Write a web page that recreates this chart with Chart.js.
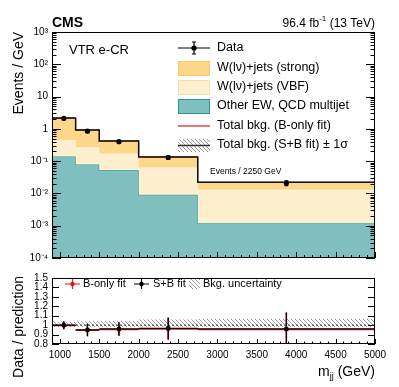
<!DOCTYPE html>
<html>
<head>
<meta charset="utf-8">
<script src="https://cdn.jsdelivr.net/npm/chart.js@4"></script>
<style>
  body { margin: 0; background: #fff; }
  #wrap { position: relative; width: 399px; height: 387px; }
  canvas { position: absolute; left: 0; }
</style>
</head>
<body>
<div id="wrap">
  <canvas id="top" width="399" height="268" style="top:0"></canvas>
  <canvas id="ratio" width="399" height="119" style="top:268px"></canvas>
</div>
<script>
// bin edges in m_jj (GeV) and bin centres
const edges = [900, 1200, 1500, 2000, 2750, 5000];
const centers = [1050, 1350, 1750, 2375, 3875];

// events / GeV per process
const otherEW = [0.14, 0.079, 0.052, 0.0091, 0.0012];
const wVBF = [0.31, 0.19, 0.12, 0.054, 0.0118];
const wStrong = [1.7, 0.65, 0.25, 0.072, 0.009];
const dataY = [2.1, 0.85, 0.40, 0.13, 0.021];
const dataErr = [0.08, 0.055, 0.028, 0.015, 0.0037];

// ratio panel
const ratioSB = [1.00, 0.95, 0.96, 0.965, 0.96];
const ratioB = [0.995, 0.945, 0.955, 0.96, 0.955];
const ratioErr = [0.04, 0.065, 0.07, 0.115, 0.175];
const bandLow = [0.98, 0.98, 0.98, 0.98, 0.98];
const bandHigh = [1.035, 1.04, 1.045, 1.06, 1.065];

// tick labels
const yTicks = [1e-4, 1e-3, 1e-2, 1e-1, 1, 10, 100, 1000];
const yTickLabels = ["10\u207B\u2074", "10\u207B\u00B3", "10\u207B\u00B2", "10\u207B\u00B9", "1", "10", "10\u00B2", "10\u00B3"];
const rTicks = [0.8, 0.9, 1.0, 1.1, 1.2, 1.3, 1.4, 1.5];
const rTickLabels = ["0.8", "0.9", "1", "1.1", "1.2", "1.3", "1.4", "1.5"];
const xTicks = [1000, 1500, 2000, 2500, 3000, 3500, 4000, 4500, 5000];
const xTickLabels = ["1000", "1500", "2000", "2500", "3000", "3500", "4000", "4500", "5000"];

const FONT = "'Liberation Sans', Arial, sans-serif";
const C_STRONG = "#fdd88b", C_VBF = "#fef0cf", C_OTHER = "#80bfbf", C_OTHER_LINE = "#2b9494";

function steps(vals) {
    return edges.map((e, i) => ({x: e, y: vals[Math.min(i, vals.length - 1)]}));
}

function makeHatch() {
    let c = document.createElement("canvas");
    c.width = 4; c.height = 4;
    let g = c.getContext("2d");
    g.strokeStyle = "#808080";
    g.lineWidth = 0.8;
    g.beginPath();
    g.moveTo(0, 0); g.lineTo(4, 4);
    g.moveTo(-1, 3); g.lineTo(1, 5);
    g.moveTo(3, -1); g.lineTo(5, 1);
    g.stroke();
    return g.createPattern(c, "repeat");
}

let cumVBF = otherEW.map((v, i) => v + wVBF[i]);
let total = cumVBF.map((v, i) => v + wStrong[i]);
let hatch = makeHatch();

// inward ROOT-like ticks and frame
function frameTicks(opts) {
    return {
        id: "frameTicks",
        afterDraw(chart) {
            let ctx = chart.ctx, a = chart.chartArea;
            let x = chart.scales.x, y = chart.scales.y;
            ctx.save();
            ctx.strokeStyle = "#000";
            ctx.lineWidth = 1;
            ctx.beginPath();
            for (let v = 900; v <= 5000; v += 100) {
                let px = Math.round(x.getPixelForValue(v)) + 0.5;
                let len = v % 500 === 0 ? opts.xMajor : opts.xMinor;
                ctx.moveTo(px, a.bottom); ctx.lineTo(px, a.bottom - len);
            }
            opts.yTickList(y).forEach(t => {
                let py = Math.round(y.getPixelForValue(t.v)) + 0.5;
                ctx.moveTo(a.left, py); ctx.lineTo(a.left + t.len, py);
                ctx.moveTo(a.right, py); ctx.lineTo(a.right - t.len, py);
            });
            ctx.stroke();
            ctx.strokeRect(a.left + 0.5, a.top + 0.5, a.width - 1, a.height - 1);
            ctx.restore();
            if (opts.extra) opts.extra(chart);
        }
    };
}

// error bars drawn just before the markers of a dataset
const errorBars = {
    id: "errorBars",
    beforeDatasetDraw(chart, args) {
        let ds = chart.data.datasets[args.index];
        if (!ds.errs) return;
        let ctx = chart.ctx, x = chart.scales.x, y = chart.scales.y;
        ctx.save();
        ctx.strokeStyle = ds.borderColor;
        ctx.lineWidth = ds.errWidth || 1.2;
        ctx.beginPath();
        ds.data.forEach((p, j) => {
            let px = x.getPixelForValue(p.x);
            let y1 = y.getPixelForValue(p.y + ds.errs[j]);
            let y2 = y.getPixelForValue(Math.max(p.y - ds.errs[j], y.min));
            ctx.moveTo(px, y1); ctx.lineTo(px, y2);
            if (ds.caps) {
                ctx.moveTo(px - 2, y1); ctx.lineTo(px + 2, y1);
                ctx.moveTo(px - 2, y2); ctx.lineTo(px + 2, y2);
            }
            if (ds.hbars) {
                let py = y.getPixelForValue(p.y);
                ctx.moveTo(x.getPixelForValue(edges[j]), py);
                ctx.lineTo(x.getPixelForValue(edges[j + 1]), py);
            }
        });
        ctx.stroke();
        ctx.restore();
    }
};

function text(ctx, s, x, y, size, opt) {
    opt = opt || {};
    ctx.font = (opt.bold ? "bold " : "") + size + "px " + FONT;
    ctx.fillStyle = opt.color || "#000";
    ctx.textAlign = opt.align || "left";
    ctx.textBaseline = opt.base || "alphabetic";
    ctx.fillText(s, x, y);
}

function topExtra(chart) {
    let ctx = chart.ctx;
    ctx.save();
    text(ctx, "CMS", 52, 27, 14, {bold: true});
    // lumi label with superscript
    ctx.font = "12px " + FONT;
    let tail = " (13 TeV)", sup = "-1", head = "96.4 fb";
    let wTail = ctx.measureText(tail).width, wHead = ctx.measureText(head).width;
    ctx.font = "8px " + FONT;
    let wSup = ctx.measureText(sup).width;
    let xr = 375;
    text(ctx, tail, xr - wTail, 27, 12);
    text(ctx, sup, xr - wTail - wSup, 21, 8);
    text(ctx, head, xr - wTail - wSup - wHead, 27, 12);

    text(ctx, "VTR e-CR", 69, 54, 13);
    text(ctx, "Events / 2250 GeV", 210, 174, 8.5);

    // y title
    ctx.save();
    ctx.translate(23, 32);
    ctx.rotate(-Math.PI / 2);
    text(ctx, "Events / GeV", 0, 0, 14, {align: "right"});
    ctx.restore();

    // legend
    let lx = 178, lw = 32, tx = 217;
    ctx.strokeStyle = "#000"; ctx.lineWidth = 1.2;
    ctx.beginPath();
    ctx.moveTo(lx, 48); ctx.lineTo(lx + lw, 48);
    ctx.moveTo(lx + 16, 42); ctx.lineTo(lx + 16, 54);
    ctx.moveTo(lx + 14, 42); ctx.lineTo(lx + 18, 42);
    ctx.moveTo(lx + 14, 54); ctx.lineTo(lx + 18, 54);
    ctx.stroke();
    ctx.fillStyle = "#000";
    ctx.beginPath(); ctx.arc(lx + 16, 48, 2.6, 0, 2 * Math.PI); ctx.fill();
    text(ctx, "Data", tx, 48, 12.5, {base: "middle"});

    let boxes = [[C_STRONG, "#f6c76c", 68, "W(l\u03BD)+jets (strong)"],
                 [C_VBF, "#f3e0b8", 87, "W(l\u03BD)+jets (VBF)"],
                 [C_OTHER, C_OTHER_LINE, 106, "Other EW, QCD multijet"]];
    boxes.forEach(b => {
        ctx.fillStyle = b[0];
        ctx.fillRect(lx, b[2] - 7, lw, 15);
        ctx.strokeStyle = b[1]; ctx.lineWidth = 1;
        ctx.strokeRect(lx + 0.5, b[2] - 6.5, lw - 1, 14);
        text(ctx, b[3], tx, b[2], 12.5, {base: "middle"});
    });
    ctx.strokeStyle = "#e8141e"; ctx.lineWidth = 1.2;
    ctx.beginPath(); ctx.moveTo(lx, 126); ctx.lineTo(lx + lw, 126); ctx.stroke();
    text(ctx, "Total bkg. (B-only fit)", tx, 126, 12.5, {base: "middle"});
    ctx.fillStyle = hatch;
    ctx.fillRect(lx, 139, lw, 13);
    ctx.strokeStyle = "#333"; ctx.lineWidth = 1.5;
    ctx.beginPath(); ctx.moveTo(lx, 145.5); ctx.lineTo(lx + lw, 145.5); ctx.stroke();
    text(ctx, "Total bkg. (S+B fit) \u00B1 1\u03C3", tx, 145, 12.5, {base: "middle"});
    ctx.restore();
}

function ratioExtra(chart) {
    let ctx = chart.ctx;
    ctx.save();
    // y title
    ctx.save();
    ctx.translate(23, 59);
    ctx.rotate(-Math.PI / 2);
    text(ctx, "Data / prediction", 0, 0, 14, {align: "center"});
    ctx.restore();
    // x title with subscript
    ctx.font = "14px " + FONT;
    let t2 = " (GeV)";
    let w2 = ctx.measureText(t2).width;
    ctx.font = "9px " + FONT;
    let wSub = ctx.measureText("jj").width;
    ctx.font = "14px " + FONT;
    let wm = ctx.measureText("m").width;
    text(ctx, t2, 375 - w2, 108, 14);
    text(ctx, "jj", 375 - w2 - wSub, 111, 9);
    text(ctx, "m", 375 - w2 - wSub - wm, 108, 14);

    // legend
    let ly = 16;
    [["#e8141e", 65, "B-only fit", 83], ["#000", 134, "S+B fit", 153]].forEach(e => {
        ctx.strokeStyle = e[0]; ctx.lineWidth = 1.2;
        ctx.beginPath();
        ctx.moveTo(e[1], ly); ctx.lineTo(e[1] + 15, ly);
        ctx.moveTo(e[1] + 7.5, ly - 5); ctx.lineTo(e[1] + 7.5, ly + 5);
        ctx.stroke();
        ctx.fillStyle = e[0];
        ctx.beginPath(); ctx.arc(e[1] + 7.5, ly, 2.2, 0, 2 * Math.PI); ctx.fill();
        text(ctx, e[2], e[3], ly, 11, {base: "middle"});
    });
    ctx.fillStyle = hatch;
    ctx.fillRect(189, ly - 5, 11, 10);
    text(ctx, "Bkg. uncertainty", 203, ly, 11, {base: "middle"});
    ctx.restore();
}

document.addEventListener("DOMContentLoaded", function() {
    let line = {pointRadius: 0, borderWidth: 0, stepped: true};

    new Chart(document.querySelector("#top").getContext("2d"), {
        type: "line",
        data: {
            datasets: [
                Object.assign({}, line, {data: steps(otherEW), fill: "start", backgroundColor: C_OTHER,
                    borderColor: C_OTHER_LINE, borderWidth: 1.2, order: 10}),
                Object.assign({}, line, {data: steps(cumVBF), fill: "-1", backgroundColor: C_VBF,
                    borderColor: C_VBF, order: 9}),
                Object.assign({}, line, {data: steps(total), fill: "-1", backgroundColor: C_STRONG,
                    borderColor: C_STRONG, order: 8}),
                Object.assign({}, line, {data: steps(total.map((v, i) => v * bandLow[i])), fill: false, order: 7}),
                Object.assign({}, line, {data: steps(total.map((v, i) => v * bandHigh[i])), fill: "-1",
                    backgroundColor: hatch, order: 6}),
                Object.assign({}, line, {data: steps(total), borderColor: "#e8141e", borderWidth: 1, fill: false, order: 5}),
                Object.assign({}, line, {data: steps(total), borderColor: "#111", borderWidth: 1.5, fill: false, order: 4}),
                {data: centers.map((c, i) => ({x: c, y: dataY[i]})), showLine: false, pointRadius: 2.6,
                    pointBackgroundColor: "#000", borderColor: "#000", pointBorderWidth: 0,
                    errs: dataErr, caps: true, order: 1}
            ]
        },
        options: {
            responsive: false,
            animation: false,
            devicePixelRatio: 1,
            layout: {padding: {top: 32, right: 24, bottom: 5, left: 0}},
            plugins: {legend: {display: false}, tooltip: {enabled: false}},
            scales: {
                x: {type: "linear", min: 900, max: 5000, display: false},
                y: {
                    type: "logarithmic", min: 1e-4, max: 1e3,
                    afterBuildTicks: s => { s.ticks = yTicks.map(v => ({value: v})); },
                    afterFit: s => { s.width = 52; },
                    grid: {display: false, drawTicks: false},
                    border: {display: false},
                    ticks: {
                        autoSkip: false, padding: 4, color: "#000",
                        font: {family: FONT, size: 10},
                        callback: (v, i) => yTickLabels[i]
                    }
                }
            }
        },
        plugins: [errorBars, frameTicks({
            xMajor: 6, xMinor: 3,
            yTickList: () => {
                let list = [];
                for (let e = -4; e < 3; e++) {
                    list.push({v: Math.pow(10, e), len: 9});
                    for (let k = 2; k <= 9; k++) list.push({v: k * Math.pow(10, e), len: 4.5});
                }
                list.push({v: 1000, len: 9});
                return list;
            },
            extra: topExtra
        })]
    });

    new Chart(document.querySelector("#ratio").getContext("2d"), {
        type: "line",
        data: {
            datasets: [
                Object.assign({}, line, {data: steps(bandLow), fill: false, order: 10}),
                Object.assign({}, line, {data: steps(bandHigh), fill: "-1", backgroundColor: hatch, order: 9}),
                {data: [{x: 900, y: 1}, {x: 5000, y: 1}], pointRadius: 0, borderColor: "#333",
                    borderWidth: 1, borderDash: [2, 2], fill: false, order: 8},
                {data: centers.map((c, i) => ({x: c, y: ratioB[i]})), showLine: false, pointRadius: 2.2,
                    pointBackgroundColor: "#e8141e", borderColor: "#e8141e", pointBorderWidth: 0,
                    errs: ratioErr.map(v => v * 1.02), hbars: true, errWidth: 1.5, order: 3},
                {data: centers.map((c, i) => ({x: c, y: ratioSB[i]})), showLine: false, pointRadius: 2.4,
                    pointBackgroundColor: "#000", borderColor: "#000", pointBorderWidth: 0,
                    errs: ratioErr, hbars: true, errWidth: 1.3, order: 1}
            ]
        },
        options: {
            responsive: false,
            animation: false,
            devicePixelRatio: 1,
            layout: {padding: {top: 7, right: 24, bottom: 0, left: 0}},
            plugins: {legend: {display: false}, tooltip: {enabled: false}},
            scales: {
                x: {
                    type: "linear", min: 900, max: 5000,
                    afterBuildTicks: s => { s.ticks = xTicks.map(v => ({value: v})); },
                    afterFit: s => { s.height = 43; },
                    grid: {display: false, drawTicks: false},
                    border: {display: false},
                    ticks: {
                        autoSkip: false, maxRotation: 0, padding: 5, color: "#000",
                        font: {family: FONT, size: 10},
                        callback: (v, i) => xTickLabels[i]
                    }
                },
                y: {
                    type: "linear", min: 0.8, max: 1.5,
                    afterBuildTicks: s => { s.ticks = rTicks.map(v => ({value: v})); },
                    afterFit: s => { s.width = 52; },
                    grid: {display: false, drawTicks: false},
                    border: {display: false},
                    ticks: {
                        autoSkip: false, padding: 4, color: "#000",
                        font: {family: FONT, size: 10},
                        callback: (v, i) => rTickLabels[i]
                    }
                }
            }
        },
        plugins: [errorBars, frameTicks({
            xMajor: 5, xMinor: 2.5,
            yTickList: () => rTicks.map(v => ({v: v, len: 7})),
            extra: ratioExtra
        })]
    });
});
</script>
</body>
</html>
